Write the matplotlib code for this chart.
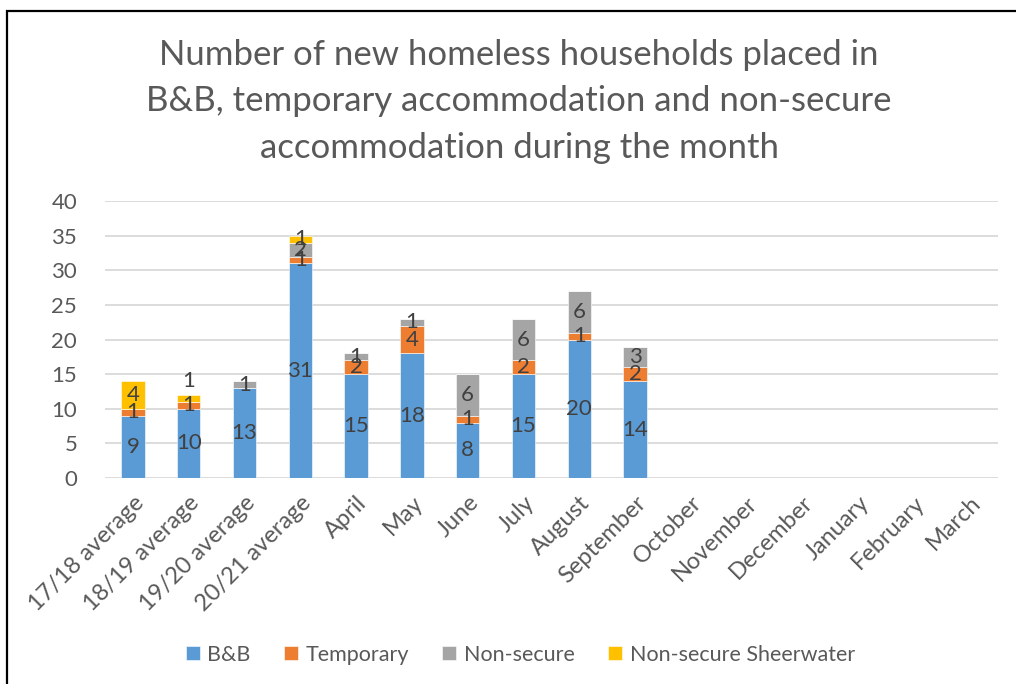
import matplotlib.pyplot as plt
import numpy as np
from matplotlib.patches import Rectangle

plt.rcParams['font.family'] = ['Lato', 'DejaVu Sans']

categories = ['17/18 average', '18/19 average', '19/20 average', '20/21 average',
              'April', 'May', 'June', 'July', 'August', 'September',
              'October', 'November', 'December', 'January', 'February', 'March']
bnb = [9, 10, 13, 31, 15, 18, 8, 15, 20, 14, 0, 0, 0, 0, 0, 0]
temporary = [1, 1, 0, 1, 2, 4, 1, 2, 1, 2, 0, 0, 0, 0, 0, 0]
non_secure = [0, 0, 1, 2, 1, 1, 6, 6, 6, 3, 0, 0, 0, 0, 0, 0]
sheerwater = [4, 1, 0, 1, 0, 0, 0, 0, 0, 0, 0, 0, 0, 0, 0, 0]

series = [('B&B', bnb, '#5B9BD5'),
          ('Temporary', temporary, '#ED7D31'),
          ('Non-secure', non_secure, '#A5A5A5'),
          ('Non-secure Sheerwater', sheerwater, '#FFC000')]

text_col = '#595959'
label_col = '#404040'

fig = plt.figure(figsize=(10.16, 6.84), dpi=100)
ax = fig.add_axes([0.1033, 0.301, 0.8787, 0.405])

x = np.arange(len(categories))
bottom = np.zeros(len(categories))
for name, vals, col in series:
    vals = np.array(vals, dtype=float)
    ax.bar(x, vals, 0.42, bottom=bottom, color=col, label=name,
           edgecolor='white', linewidth=0.4, zorder=3)
    for i, v in enumerate(vals):
        if v <= 0:
            continue
        y = bottom[i] + v / 2
        # the small Sheerwater segment on 18/19 has its label lifted above the bar
        if name == 'Non-secure Sheerwater' and i == 1:
            y = bottom[i] + v + 2
        ax.text(i, y, f'{int(v)}', ha='center', va='center',
                fontsize=16, color=label_col, zorder=4)
    bottom += vals

ax.set_xlim(-0.5, len(categories) - 0.5)
ax.set_ylim(0, 40)
ax.set_yticks(range(0, 41, 5))
ax.yaxis.grid(True, color='#D9D9D9', linewidth=1.3, zorder=0)
ax.set_axisbelow(True)
for s in ax.spines.values():
    s.set_visible(False)
ax.tick_params(axis='both', length=0, labelsize=16, labelcolor=text_col)
ax.tick_params(axis='y', pad=20)
ax.set_xticks(x)
ax.set_xticklabels(categories, rotation=45, ha='right', va='top',
                   rotation_mode='anchor', fontsize=17)
ax.tick_params(axis='x', pad=10)

fig.text(0.511, 0.852,
         'Number of new homeless households placed in\n'
         'B&B, temporary accommodation and non-secure\n'
         'accommodation during the month',
         ha='center', va='center', fontsize=25, color=text_col,
         linespacing=1.55)

leg = fig.legend(loc='center', bbox_to_anchor=(0.512, 0.043), ncol=4,
                 frameon=False, fontsize=15.5, handlelength=0.65,
                 handleheight=0.65, handletextpad=0.35, columnspacing=1.55)
for t in leg.get_texts():
    t.set_color(text_col)

# outer chart frame
fig.patches.append(Rectangle((0.007, -0.1), 1.2, 1.084, transform=fig.transFigure,
                             fill=False, edgecolor='black', linewidth=1.6))

fig.savefig('out.png', dpi=100)
